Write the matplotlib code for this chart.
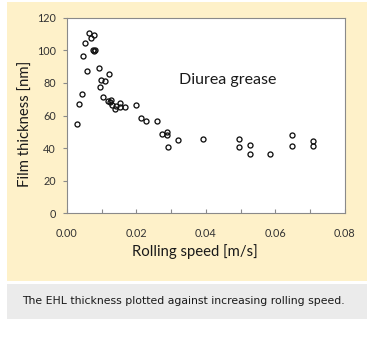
import matplotlib
matplotlib.use('Agg')
import matplotlib.pyplot as plt
from matplotlib.patches import Rectangle

# rolling speed [m/s] and measured film thickness [nm]
speed = [0.0030, 0.0036, 0.0042, 0.0047, 0.0052, 0.0059, 0.0062, 0.0070,
         0.0078, 0.0076, 0.0079, 0.0082, 0.0091, 0.0094, 0.0099, 0.0109,
         0.0120, 0.0105, 0.0119, 0.0128, 0.0125, 0.0131, 0.0137, 0.0140,
         0.0153, 0.0152, 0.0167, 0.0198, 0.0212, 0.0228, 0.0258, 0.0274,
         0.0289, 0.0289, 0.0290, 0.0320, 0.0393, 0.0496, 0.0496, 0.0526,
         0.0526, 0.0586, 0.0647, 0.0647, 0.0708, 0.0708]
thickness = [54.8, 67.1, 73.2, 96.4, 104.4, 87.4, 110.5, 107.4,
             109.5, 100.5, 99.5, 100.0, 89.4, 77.5, 81.6, 81.2,
             85.7, 71.6, 68.9, 69.7, 68.3, 66.5, 63.8, 66.0,
             67.5, 65.0, 65.0, 66.2, 58.2, 56.4, 56.4, 48.4,
             49.8, 48.0, 41.0, 45.1, 45.3, 45.5, 40.8, 42.2,
             36.3, 36.1, 47.8, 41.6, 44.1, 41.4]

xticks = [0.00, 0.02, 0.04, 0.06, 0.08]
yticks = [0, 20, 40, 60, 80, 100, 120]

font = ['Lato', 'DejaVu Sans']
W, H = 380, 347

fig = plt.figure(figsize=(3.8, 3.47), dpi=100)
fig.patch.set_facecolor('white')

# panel backgrounds
fig.patches.append(Rectangle((7 / W, 1 - 281 / H), 360 / W, 279 / H,
                             transform=fig.transFigure, facecolor='#fef1c9',
                             edgecolor='none', zorder=-2))
fig.patches.append(Rectangle((7 / W, 1 - 319 / H), 360 / W, 35 / H,
                             transform=fig.transFigure, facecolor='#ebebeb',
                             edgecolor='none', zorder=-2))

ax = fig.add_axes([67 / W, 1 - 213.3 / H, 277.6 / W, 195.5 / H])
ax.set_zorder(1)
ax.set_facecolor('white')
ax.plot(speed, thickness, 'o', ms=3.6, mfc='none', mec='#111111', mew=0.95,
        clip_on=False)

ax.set_xlim(0, 0.08)
ax.set_ylim(0, 120)
ax.set_xticks(xticks)
ax.set_xticklabels(['%.2f' % v for v in xticks])
ax.set_yticks(yticks)
ax.set_xticks([0.01, 0.03, 0.05, 0.07], minor=True)

for s in ax.spines.values():
    s.set_color('#8a8a8a')
    s.set_linewidth(0.8)
ax.tick_params(axis='x', which='both', direction='in', length=3, width=0.8,
               color='#8a8a8a', labelsize=7.8, labelcolor='#333333', pad=10.5)
ax.tick_params(axis='y', direction='out', length=3, width=0.8,
               color='#8a8a8a', labelsize=7.8, labelcolor='#333333', pad=5)
for lab in ax.get_xticklabels() + ax.get_yticklabels():
    lab.set_family(font)

fig.text(195 / W, 1 - 252 / H, 'Rolling speed [m/s]', fontsize=10.7,
         family=font, color='#1a1a1a', ha='center', va='center')
fig.text(26 / W, 1 - 124 / H, 'Film thickness [nm]', fontsize=10.7,
         family=font, color='#1a1a1a', ha='center', va='center',
         rotation=90)

ax.text(0.0322, 82, 'Diurea grease', fontsize=11.5, family=font,
        color='#1a1a1a', va='center')

fig.text(22 / W, 1 - 301 / H, 'The EHL thickness plotted against increasing rolling speed.',
         fontsize=7.8, family='DejaVu Sans', color='#1a1a1a', va='center')

fig.savefig('out.png', dpi=100, facecolor=fig.get_facecolor())
